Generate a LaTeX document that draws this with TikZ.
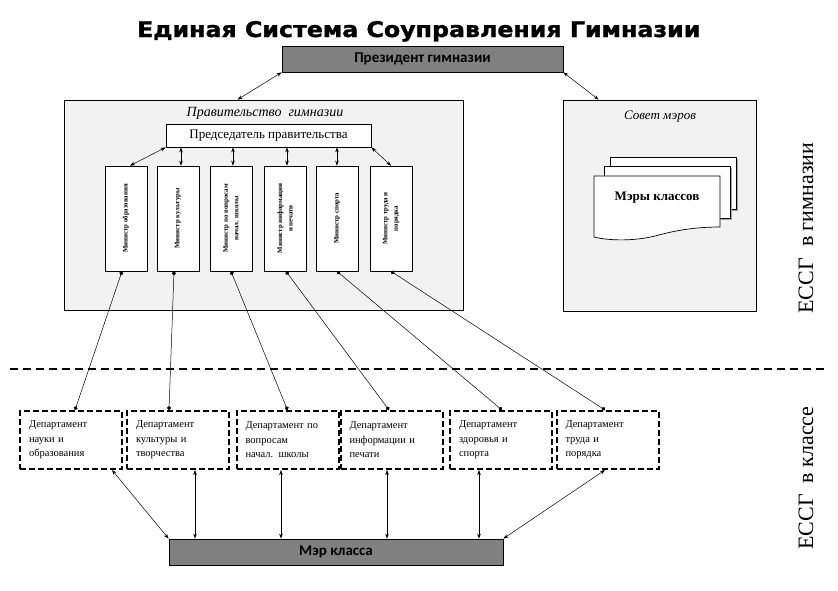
\documentclass[tikz,border=0pt]{standalone}
\usepackage{fontspec}
\setmainfont{Liberation Serif}
\newfontfamily\calib{Carlito}
\newfontfamily\titlefont{DejaVu Sans}[BoldFeatures={FakeBold=1.3}]
\usepackage{graphicx}
\usetikzlibrary{arrows.meta,calc}
\definecolor{boxgray}{RGB}{128,128,128}
\definecolor{panel}{RGB}{242,242,242}
\begin{document}
\begin{tikzpicture}[x=1pt,y=-1pt,
  box/.style={draw=black, line width=0.8pt, inner sep=0pt},
  graybox/.style={box, fill=boxgray, minimum height=26pt, font=\calib\bfseries\fontsize{15}{17}\selectfont},
  panelbox/.style={box, fill=panel},
  mbox/.style={box, fill=white, line width=0.7pt, minimum width=42pt, minimum height=105pt},
  mtext/.style={rotate=90, align=center, inner sep=0pt, font=\bfseries\fontsize{6.8}{10.5}\selectfont},
  dept/.style={draw=black, line width=2pt, dash pattern=on 6pt off 3pt, minimum height=58pt,
     text width=84pt, inner xsep=9pt, inner ysep=0pt, align=left, font=\fontsize{10.5}{14.5}\selectfont},
  dbl/.style={{Stealth[length=5pt,width=3.6pt]}-{Stealth[length=5pt,width=3.6pt]}, line width=0.5pt},
  dotline/.style={{Circle[length=4pt]}-{Circle[length=4pt]}, line width=0.5pt},
  sidelabel/.style={rotate=90, inner sep=0pt, font=\fontsize{22}{24}\selectfont}
]
\useasboundingbox (0,0) rectangle (838,590);
\fill[white] (0,0) rectangle (838,590);

% title
\node[anchor=base west, inner sep=0pt] (title) at (137,37)
  {\resizebox{563pt}{16pt}{\titlefont\bfseries Единая Система Соуправления Гимназии}};

% president
\node[graybox, minimum width=281pt] (pres) at (422.5,59) {Президент гимназии};

% panels
\node[panelbox, minimum width=399pt, minimum height=210pt] (gov) at (263.5,205) {};
\node[panelbox, minimum width=193pt, minimum height=211pt] (coun) at (659.5,205.5) {};
\node[font=\itshape\fontsize{14}{16}\selectfont, inner sep=0pt] (govt) at (265,113) {Правительство\ \ гимназии};
\node[font=\itshape\fontsize{13}{15}\selectfont, inner sep=0pt] (count) at (660,117) {Совет мэров};

% chairman
\node[box, fill=white, minimum width=205pt, minimum height=23pt, font=\fontsize{13}{15}\selectfont] (chair) at (268.5,135.5) {Председатель правительства};

% ministers
\node[mbox] (m1) at (126,218.5) {};
\node[mbox] (m2) at (178,218.5) {};
\node[mbox] (m3) at (231,218.5) {};
\node[mbox] (m4) at (285,218.5) {};
\node[mbox] (m5) at (337,218.5) {};
\node[mbox] (m6) at (391,218.5) {};
\node[mtext] (t1) at (m1) {Министр образования};
\node[mtext] (t2) at (m2) {Министр культуры};
\node[mtext] (t3) at (m3) {Министр по вопросам\\начал. школы};
\node[mtext] (t4) at (m4) {Министр информации\\и печати};
\node[mtext] (t5) at (m5) {Министр спорта};
\node[mtext] (t6) at (m6) {Министр труда и\\порядка};

% chairman to ministers
\draw[dbl] (chair.south west) -- ($(m1.north)+(4,0)$);
\draw[dbl] ($(m2.north |- chair.south)+(3,0)$) -- ($(m2.north)+(3,0)$);
\draw[dbl] ($(m3.north |- chair.south)+(2,0)$) -- ($(m3.north)+(2,0)$);
\draw[dbl] ($(m4.north |- chair.south)+(2,0)$) -- ($(m4.north)+(2,0)$);
\draw[dbl] (m5.north |- chair.south) -- (m5.north);
\draw[dbl] (chair.south east) -- (m6.north);

% president arrows
\draw[dbl] (pres.south west) -- ($(gov.north west)+(174,0)$);
\draw[dbl] (pres.south east) -- ($(coun.north west)+(36,0)$);

% council documents
\fill[gray!70] (611.5,158.5) rectangle (737.5,210.5);
\draw[fill=white, line width=0.7pt] (610,157) rectangle (736,209);
\fill[gray!70] (605.5,167.5) rectangle (731.5,219.5);
\draw[fill=white, line width=0.7pt] (604,166) rectangle (730,218);
\draw[fill=white, line width=0.7pt] (594,176) -- (720,176) -- (720,227)
  .. controls (690,227) and (670,232) .. (655,236)
  .. controls (635,241) and (610,241) .. (594,237) -- cycle;
\node[font=\bfseries\fontsize{13}{15}\selectfont, inner sep=0pt] (mayors) at (657,198) {Мэры классов};

% separator
\draw[line width=2.2pt, dash pattern=on 8pt off 5pt] (10,369) -- (827,369);

% side labels
\node[sidelabel] (lab1) at (806,228) {ЕССГ\ \ в гимназии};
\node[sidelabel] (lab2) at (806,478) {ЕССГ\ \ в классе};

% departments
\node[dept] (d1) at (71,440) {Департамент\\науки и\\образования};
\node[dept] (d2) at (178,440) {Департамент\\культуры и\\творчества};
\node[dept] (d3) at (287.5,440) {Департамент по\\вопросам\\начал. школы};
\node[dept] (d4) at (391.5,440) {Департамент\\информации и\\печати};
\node[dept] (d5) at (501,440) {Департамент\\здоровья и\\спорта};
\node[dept] (d6) at (607.5,440) {Департамент\\труда и\\порядка};

% ministers to departments
\draw[dotline] ($(m1.south)+(-4,0)$) -- ($(d1.north)+(4,0)$);
\draw[dotline] ($(m2.south)+(-4,0)$) -- ($(d2.north)+(-9,0)$);
\draw[dotline] (m3.south) -- (d3.north);
\draw[dotline] ($(m4.south)+(1,0)$) -- ($(d4.north)+(-2.5,0)$);
\draw[dotline] (m5.south) -- ($(d5.north)+(1,0)$);
\draw[dotline] (m6.south) -- ($(d6.north)+(-2.5,0)$);

% mayor of class
\node[graybox, minimum width=334pt] (mayor) at (336,552) {Мэр класса};

\coordinate (v2) at ($(d2.south)+(17,0)$);
\coordinate (v3) at ($(d3.south)+(-6.5,0)$);
\coordinate (v4) at ($(d4.south)+(-4.5,0)$);
\coordinate (v5) at ($(d5.south)+(-22,0)$);
\draw[dbl] ($(d1.south)+(41,0)$) -- (mayor.north west);
\draw[dbl] (v2) -- (v2 |- mayor.north);
\draw[dbl] (v3) -- (v3 |- mayor.north);
\draw[dbl] (v4) -- (v4 |- mayor.north);
\draw[dbl] (v5) -- (v5 |- mayor.north);
\draw[dbl] ($(d6.south)+(-2.5,0)$) -- (mayor.north east);
\end{tikzpicture}
\end{document}
